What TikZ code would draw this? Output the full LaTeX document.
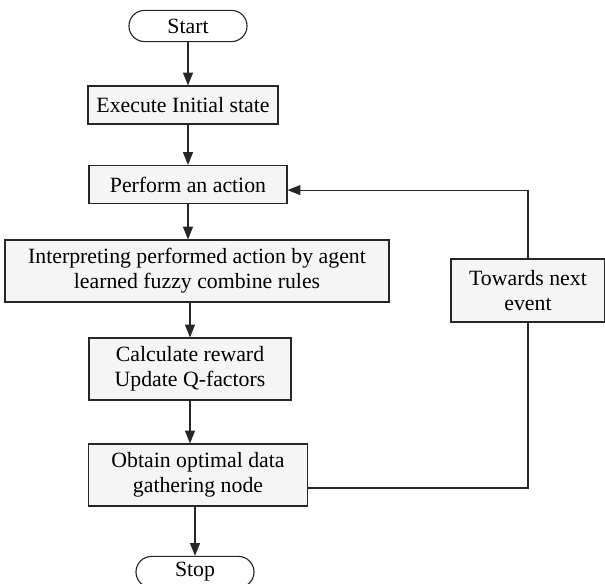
\documentclass[tikz,border=0pt]{standalone}
\usepackage{fontspec}
\setmainfont{Liberation Serif}
\usetikzlibrary{arrows.meta}

\begin{document}
\begin{tikzpicture}
        [x=0.025cm, y=-0.025cm,
        box/.style={rectangle, draw=black!85, line width=0.8pt, fill=gray!8, align=center, inner sep=2pt, font=\fontsize{15.5}{17.8}\selectfont},
        term/.style={box, fill=white, rounded corners=0.39cm, minimum width=2.95cm, minimum height=0.78cm},
        flow/.style={draw=black!85, line width=0.8pt, -{Triangle[length=3.2mm, width=2.5mm]}},
        link/.style={draw=black!85, line width=0.8pt}]

        \useasboundingbox (0,0) rectangle (605,584);

        \node[term] (start) at (188,26) {Start};
        \node[box, minimum width=4.75cm, minimum height=0.95cm] (init) at (183,105) {Execute Initial state};
        \node[box, minimum width=4.95cm, minimum height=0.95cm] (act) at (188,184.5) {Perform an action};
        \node[box, minimum width=9.6cm, minimum height=1.55cm] (interp) at (197,271) {Interpreting performed action by agent\\learned fuzzy combine rules};
        \node[box, minimum width=5.05cm, minimum height=1.55cm] (reward) at (190,369) {Calculate reward\\Update Q-factors};
        \node[box, minimum width=5.475cm, minimum height=1.55cm] (optimal) at (198,475) {Obtain optimal data\\gathering node};
        \node[term] (stop) at (195,572) {Stop};
        \node[box, minimum width=3.85cm, minimum height=1.575cm] (next) at (528,290.5) {Towards next\\event};

        % main flow
        \draw[flow] (start) -- (start |- init.north);
        \draw[flow] (act |- init.south) -- (act);
        \draw[flow] (act) -- (act |- interp.north);
        \draw[flow] (reward |- interp.south) -- (reward);
        \draw[flow] (reward) -- (reward |- optimal.north);
        \draw[flow] (stop |- optimal.south) -- (stop);

        % loop back to the action
        \draw[link] ([yshift=-0.325cm]optimal.east) -| (next);
        \draw[flow] (next) |- ([yshift=-0.14cm]act.east);

    \end{tikzpicture}
\end{document}
